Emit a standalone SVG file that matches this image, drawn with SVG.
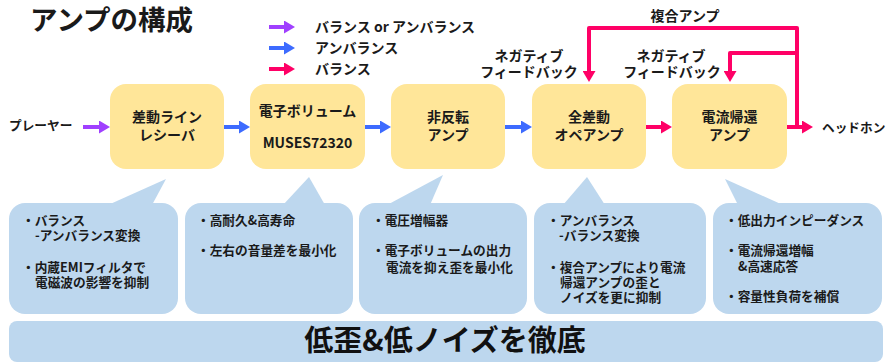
<svg xmlns="http://www.w3.org/2000/svg" width="892" height="363" viewBox="0 0 892 363">
<style>
text{font-family:"Noto Sans CJK JP","Noto Sans",sans-serif;font-weight:bold;fill:#1a1a1a}
.t14{font-size:14px}
.t12{font-size:12.7px}
.box{fill:#FFE699}
.call{fill:#BDD7EE}
.c{text-anchor:middle}
.ar{fill:none;stroke-width:4}
</style>
<defs>
<marker id="hp" markerUnits="userSpaceOnUse" markerWidth="12" markerHeight="13" refX="2" refY="6.5" orient="auto"><path d="M0,0 L11,6.5 L0,13 z" fill="#A040FF"/></marker>
<marker id="hb" markerUnits="userSpaceOnUse" markerWidth="12" markerHeight="13" refX="2" refY="6.5" orient="auto"><path d="M0,0 L11,6.5 L0,13 z" fill="#3D6BFF"/></marker>
<marker id="hr" markerUnits="userSpaceOnUse" markerWidth="12" markerHeight="13" refX="2" refY="6.5" orient="auto"><path d="M0,0 L11,6.5 L0,13 z" fill="#FF0066"/></marker>
</defs>

<text x="30" y="30" style="font-size:27.5px">アンプの構成</text>

<g id="legend">
<line class="ar" x1="269" y1="27" x2="286" y2="27" stroke="#A040FF" marker-end="url(#hp)"/>
<line class="ar" x1="269" y1="48" x2="286" y2="48" stroke="#3D6BFF" marker-end="url(#hb)"/>
<line class="ar" x1="269" y1="69" x2="286" y2="69" stroke="#FF0066" marker-end="url(#hr)"/>
<text class="t14" x="315" y="32">バランス or アンバランス</text>
<text class="t14" x="315" y="53">アンバランス</text>
<text class="t14" x="315" y="74">バランス</text>
</g>

<text class="t12" x="9" y="130">プレーヤー</text>
<text class="t12" x="822" y="132">ヘッドホン</text>

<g id="connectors">
<line class="ar" x1="83" y1="127" x2="101" y2="127" stroke="#A040FF" marker-end="url(#hp)"/>
<line class="ar" x1="224" y1="127" x2="241" y2="127" stroke="#3D6BFF" marker-end="url(#hb)"/>
<line class="ar" x1="365" y1="127" x2="382" y2="127" stroke="#3D6BFF" marker-end="url(#hb)"/>
<line class="ar" x1="505" y1="127" x2="523" y2="127" stroke="#3D6BFF" marker-end="url(#hb)"/>
<line class="ar" x1="646" y1="127" x2="663" y2="127" stroke="#FF0066" marker-end="url(#hr)"/>
<line class="ar" x1="787" y1="127" x2="804" y2="127" stroke="#FF0066" marker-end="url(#hr)"/>
<path class="ar" d="M797,127 V28 H589 V73" stroke="#FF0066" stroke-linejoin="round" marker-end="url(#hr)"/>
<path class="ar" d="M797,53 H730 V73" stroke="#FF0066" stroke-linejoin="round" marker-end="url(#hr)"/>
<text class="t14 c" x="685" y="21">複合アンプ</text>
<text class="t14 c"><tspan x="529" y="61">ネガティブ</tspan><tspan x="529" y="77">フィードバック</tspan></text>
<text class="t14 c"><tspan x="671" y="61">ネガティブ</tspan><tspan x="672" y="77">フィードバック</tspan></text>
</g>

<g id="n1">
<rect class="box" x="110" y="84" width="114" height="85" rx="16"/>
<text class="t14 c"><tspan x="167" y="122">差動ライン</tspan><tspan x="167" y="140">レシーバ</tspan></text>
</g>
<g id="n2">
<rect class="box" x="250" y="84" width="115" height="85" rx="16"/>
<text class="t14 c" x="307.5" y="116">電子ボリューム</text>
<text class="t14 c" x="307.5" y="148">MUSES72320</text>
</g>
<g id="n3">
<rect class="box" x="391" y="84" width="114" height="85" rx="16"/>
<text class="t14 c"><tspan x="448" y="122">非反転</tspan><tspan x="448" y="140">アンプ</tspan></text>
</g>
<g id="n4">
<rect class="box" x="532" y="84" width="114" height="85" rx="16"/>
<text class="t14 c"><tspan x="589" y="122">全差動</tspan><tspan x="589" y="140">オペアンプ</tspan></text>
</g>
<g id="n5">
<rect class="box" x="672" y="84" width="115" height="85" rx="16"/>
<text class="t14 c"><tspan x="729.5" y="122">電流帰還</tspan><tspan x="729.5" y="140">アンプ</tspan></text>
</g>

<g id="c1">
<rect class="call" x="9" y="203" width="169" height="111" rx="16"/>
<polygon class="call" points="108,205 166,179 152,205"/>
<text class="t12"><tspan x="22" y="225">・バランス</tspan><tspan x="35" y="240">-アンバランス変換</tspan></text>
<text class="t12"><tspan x="22" y="272">・内蔵EMIフィルタで</tspan><tspan x="35" y="287">電磁波の影響を抑制</tspan></text>
</g>
<g id="c2">
<rect class="call" x="185" y="203" width="168" height="111" rx="16"/>
<polygon class="call" points="283,205 309,177 325,205"/>
<text class="t12" x="197" y="225">・高耐久&amp;高寿命</text>
<text class="t12" x="197" y="255">・左右の音量差を最小化</text>
</g>
<g id="c3">
<rect class="call" x="359" y="203" width="168" height="111" rx="16"/>
<polygon class="call" points="387,205 443,175 430,205"/>
<text class="t12" x="372" y="225">・電圧増幅器</text>
<text class="t12"><tspan x="372" y="255">・電子ボリュームの出力</tspan><tspan x="386" y="272">電流を抑え歪を最小化</tspan></text>
</g>
<g id="c4">
<rect class="call" x="534" y="203" width="172" height="111" rx="16"/>
<polygon class="call" points="563,205 587,177 605,205"/>
<text class="t12"><tspan x="547" y="225">・アンバランス</tspan><tspan x="559" y="240">-バランス変換</tspan></text>
<text class="t12"><tspan x="547" y="272">・複合アンプにより電流</tspan><tspan x="560" y="287">帰還アンプの歪と</tspan><tspan x="560" y="302">ノイズを更に抑制</tspan></text>
</g>
<g id="c5">
<rect class="call" x="713" y="203" width="169" height="111" rx="16"/>
<polygon class="call" points="738,205 725,179 783,205"/>
<text class="t12" x="725" y="225">・低出力インピーダンス</text>
<text class="t12"><tspan x="725" y="255">・電流帰還増幅</tspan><tspan x="738" y="271">&amp;高速応答</tspan></text>
<text class="t12" x="725" y="301">・容量性負荷を補償</text>
</g>

<g id="banner">
<rect class="call" x="9" y="321" width="874" height="41" rx="8"/>
<text class="c" x="445" y="351" style="font-size:29px;fill:#111">低歪&amp;低ノイズを徹底</text>
</g>
</svg>
